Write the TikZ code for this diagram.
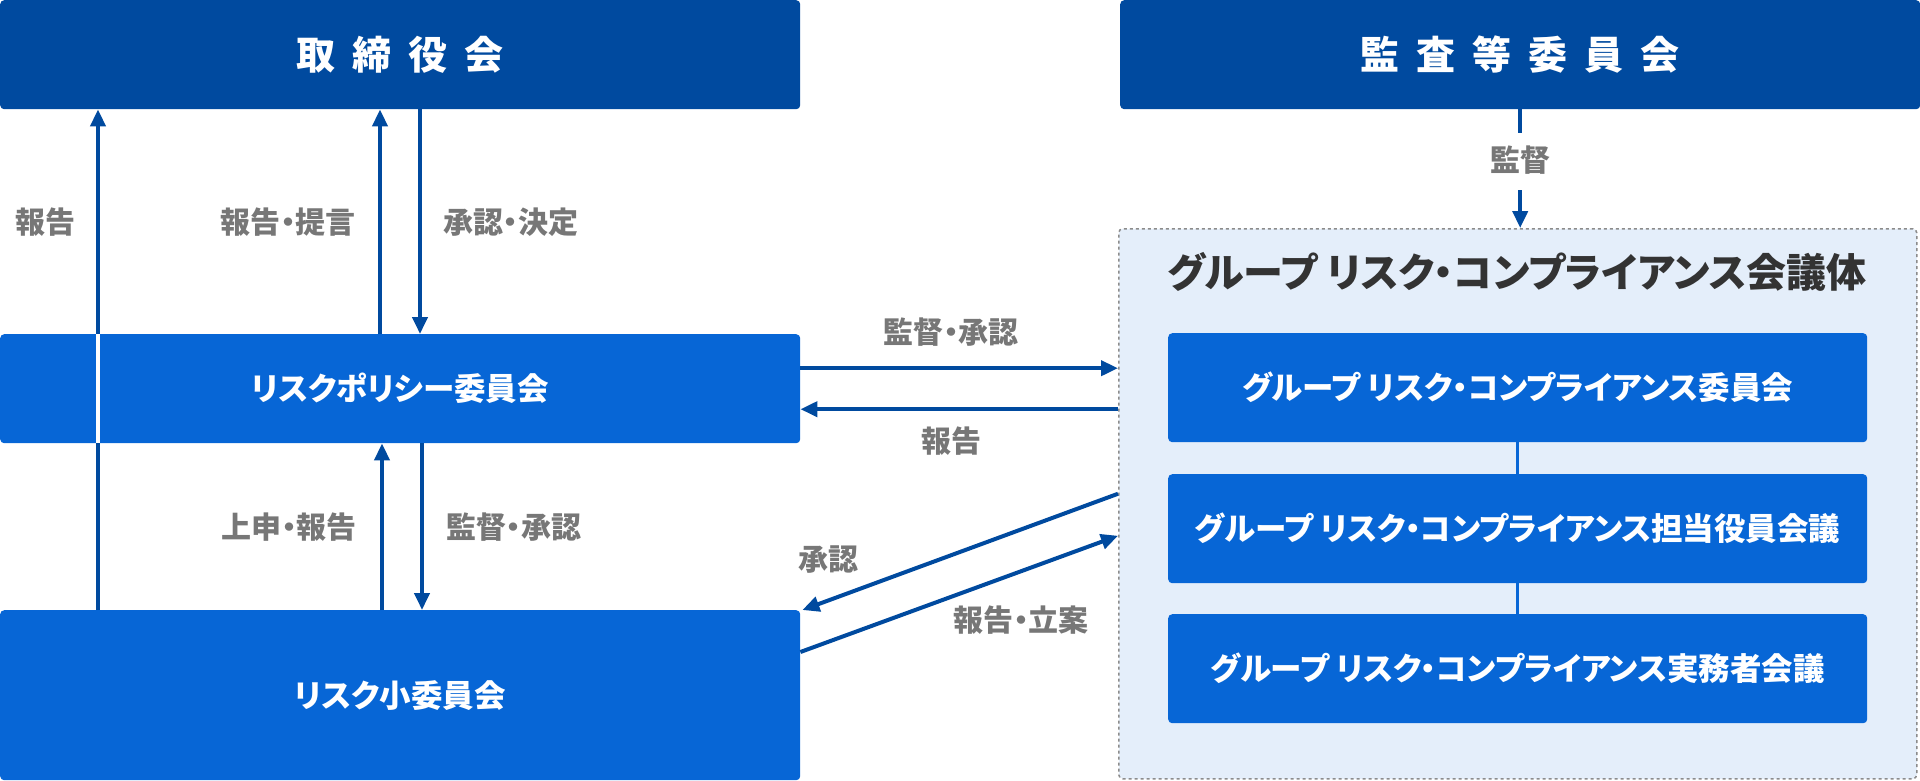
\documentclass[tikz,border=0pt]{standalone}
\usepackage{fontspec}
\setmainfont{Noto Sans CJK JP}[RawFeature=+palt]
\usetikzlibrary{arrows.meta}
\definecolor{dkblue}{HTML}{004A9F}
\definecolor{midblue}{HTML}{0766D6}
\definecolor{panelbg}{HTML}{E4EEFA}
\definecolor{lblgray}{HTML}{777777}
\definecolor{ttlgray}{HTML}{333333}
\tikzset{
  boxbase/.style={rectangle, rounded corners=4pt, inner sep=0pt, anchor=north west, text=white},
  topbox/.style={boxbase, fill=dkblue, minimum width=800pt, minimum height=109pt, font=\bfseries\fontsize{39}{44}\selectfont},
  midbox/.style={boxbase, fill=midblue, font=\bfseries\fontsize{31.5}{36}\selectfont},
  lbl/.style={text=lblgray, inner sep=0pt, font=\bfseries\fontsize{30}{34}\selectfont},
  arr/.style={draw=dkblue, line width=4pt, -{Triangle[length=17pt,width=15pt]}},
  plain/.style={draw=dkblue, line width=4pt},
}
\newcommand{\gap}{\hspace{17pt}}
\begin{document}
\begin{tikzpicture}[x=1pt,y=-1pt]
\useasboundingbox (0,0) rectangle (1920,780);
% top boxes
\node[topbox] (board) at (0,0) {取\gap 締\gap 役\gap 会};
\node[topbox] (audit) at (1120,0) {監\gap 査\gap 等\gap 委\gap 員\gap 会};
% panel
\node[rectangle, anchor=north west, minimum width=798pt, minimum height=550pt, inner sep=0pt,
      fill=panelbg, draw=gray!90, dashed, line width=1.5pt, rounded corners=4pt] (panel) at (1118,228) {};
\node[text=ttlgray, inner sep=0pt, font=\bfseries\fontsize{40}{45}\selectfont] (ptitle) at (1517,272) {グループ リスク・コンプライアンス会議体};
\node[midbox, minimum width=699pt, minimum height=109pt] (gc1) at (1168,333) {グループ リスク・コンプライアンス委員会};
\node[midbox, minimum width=699pt, minimum height=109pt] (gc2) at (1168,474) {グループ リスク・コンプライアンス担当役員会議};
\node[midbox, minimum width=699pt, minimum height=109pt] (gc3) at (1168,614) {グループ リスク・コンプライアンス実務者会議};
\draw[draw=midblue, line width=3.5pt] (gc1.south) -- (gc2.north);
\draw[draw=midblue, line width=3.5pt] (gc2.south) -- (gc3.north);
% left boxes
\node[midbox, minimum width=800pt, minimum height=109pt] (policy) at (0,334) {リスクポリシー委員会};
\node[midbox, minimum width=800pt, minimum height=170pt] (small) at (0,610) {リスク小委員会};
% long left arrow
\draw[arr] ([xshift=98pt]small.north west) -- ([xshift=98pt]board.south west);
\draw[white, line width=4pt] ([xshift=98pt]policy.north west) -- ([xshift=98pt]policy.south west);
\node[lbl] (l1) at (46,222) {報告};
% board <-> policy
\draw[arr] ([xshift=380pt]policy.north west) -- ([xshift=380pt]board.south west);
\draw[arr] ([xshift=420pt]board.south west) -- ([xshift=420pt]policy.north west);
\node[lbl, anchor=east] (l2) at (356,222) {報告・提言};
\node[lbl, anchor=west] (l3) at (443,222) {承認・決定};
% policy <-> small
\draw[arr] ([xshift=382pt]small.north west) -- ([xshift=382pt]policy.south west);
\draw[arr] ([xshift=422pt]policy.south west) -- ([xshift=422pt]small.north west);
\node[lbl, anchor=east] (l4) at (357,527) {上申・報告};
\node[lbl, anchor=west] (l5) at (446,527) {監督・承認};
% policy <-> panel
\draw[arr] ([yshift=20.5pt]policy.east) -- ([yshift=20.5pt]policy.east -| panel.west);
\draw[arr] ([yshift=-20.5pt]policy.east -| panel.west) -- ([yshift=-20.5pt]policy.east);
\node[lbl] (l6) at (951,332) {監督・承認};
\node[lbl] (l7) at (951,441) {報告};
% small <-> panel
\draw[arr] ([yshift=10pt]panel.west) -- ([xshift=2pt]small.north east);
\draw[arr] ([yshift=-42pt]small.north east) -- ([yshift=-32pt]panel.west);
\node[lbl] (l8) at (828,560) {承認};
\node[lbl] (l9) at (1021,620) {報告・立案};
% audit -> panel
\draw[plain] (audit.south) -- ([yshift=-24pt]audit.south);
\node[lbl] (l10) at (1520,160) {監督};
\draw[arr] ([yshift=-81pt]audit.south) -- (audit.south |- panel.north);
\end{tikzpicture}
\end{document}
